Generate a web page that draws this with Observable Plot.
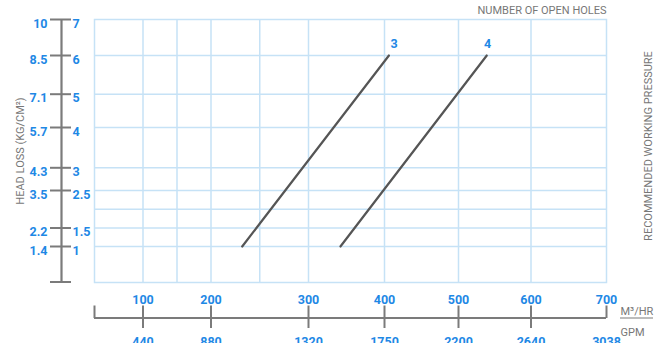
<!DOCTYPE html>
<html><head><meta charset="utf-8">
<script src="https://cdn.jsdelivr.net/npm/d3@7"></script>
<script src="https://cdn.jsdelivr.net/npm/@observablehq/plot@0.6"></script>
<style>
html,body{margin:0;padding:0;background:#fff;overflow:hidden;}
#chart{width:668px;height:343px;overflow:hidden;}
</style></head><body><div id="chart"></div>
<script>
// ---- data ----
const flowTicks = [100, 200, 300, 400, 500, 600, 700];            // m³/hr
const gpmLabels = ["440", "880", "1320", "1750", "2200", "2640", "3038"];
const flowGrid = [100, 150, 200, 250, 300, 400, 500, 600];
const pressureTicks = [7, 6, 5, 4, 3, 2.5, 1.5, 1];                // right-hand labels
const headLossLabels = ["10", "8.5", "7.1", "5.7", "4.3", "3.5", "2.2", "1.4"];
const pressureGrid = [1, 1.5, 2, 2.5, 3, 4, 5, 6];
const holes = ["3", "4"];
const flowStart = [232, 342];
const flowEnd = [406, 539];
const pressureStart = [1, 1];
const pressureEnd = [6, 6];
const holeLabelFlow = [413, 540];
const flowMin = 30, flowMax = 700, pMin = 0, pMax = 7;

// ---- build tables ----
const lineRows = holes.flatMap((h, i) => [
  {holes: h, flow: flowStart[i], p: pressureStart[i]},
  {holes: h, flow: flowEnd[i], p: pressureEnd[i]}
]);
const holeLabels = holes.map((h, i) => ({holes: h, flow: holeLabelFlow[i], p: pressureEnd[i]}));

const blue = "#1e88e5", gray = "#7b7b7b", grid = "#c6e2f6", txt = "#777";
const font = "Roboto, 'Noto Sans', sans-serif";
const lbl = {fill: blue, fontWeight: "bold", fontSize: 12.5, lineAnchor: "middle"};

const chart = Plot.plot({
  width: 668, height: 352,
  marginLeft: 94, marginRight: 62, marginTop: 19, marginBottom: 70,
  style: {fontFamily: font, background: "#fff"},
  x: {type: "linear", domain: [flowMin, 100, 200, 300, 400, 500, 600, flowMax],
      range: [94, 142.5, 210.5, 308, 384, 458, 530.5, 606], axis: null},
  y: {type: "linear", domain: [pMin, 1, 1.5, 2, 2.5, 3, 4, 5, 6, pMax],
      range: [281.5, 246, 227.5, 208.7, 190, 167.3, 127, 93.7, 55, 19], axis: null},
  marks: [
    // grid + frame
    Plot.ruleX(flowGrid, {x: d => d, stroke: grid, strokeWidth: 1.5}),
    Plot.ruleY(pressureGrid, {y: d => d, stroke: grid, strokeWidth: 1.5}),
    Plot.frame({stroke: grid, strokeWidth: 1.5}),
    // left axis
    Plot.ruleX([flowMin], {x: d => d, y1: pMin, y2: pMax, dx: -33, stroke: gray, strokeWidth: 2.2}),
    Plot.ruleY([pMax, ...pressureTicks.slice(1), pMin], {y: d => d, x1: flowMin, x2: flowMin,
      insetLeft: -44, insetRight: 23, stroke: gray, strokeWidth: 2}),
    Plot.text(pressureTicks, {y: d => d, text: (d, i) => headLossLabels[i], frameAnchor: "left", dx: -47, dy: 4,
      textAnchor: "end", ...lbl}),
    Plot.text(pressureTicks, {y: d => d, text: d => String(d), frameAnchor: "left", dx: -22, dy: 4,
      textAnchor: "start", ...lbl}),
    Plot.text(["HEAD LOSS (KG/CM²)"], {text: d => d, frameAnchor: "left", dx: -74, rotate: -90,
      textAnchor: "middle", lineAnchor: "middle", fill: txt, fontSize: 11}),
    // bottom axis
    Plot.ruleY([pMin], {y: d => d, x1: flowMin, x2: flowMax, dy: 36, stroke: gray, strokeWidth: 2}),
    Plot.ruleX(flowTicks.slice(0, -1), {x: d => d, y1: pMin, y2: pMin, insetTop: 24, insetBottom: -46.5,
      stroke: gray, strokeWidth: 2}),
    Plot.ruleX([flowMin, flowMax], {x: d => d, y1: pMin, y2: pMin, insetTop: 24, insetBottom: -36.5,
      stroke: gray, strokeWidth: 2}),
    Plot.text(flowTicks, {x: d => d, text: d => String(d), frameAnchor: "bottom", dy: 17, ...lbl}),
    Plot.text(flowTicks, {x: d => d, text: (d, i) => gpmLabels[i], frameAnchor: "bottom", dy: 59, ...lbl}),
    Plot.text(["M³/HR"], {text: d => d, frameAnchor: "bottom-right", dx: 14, dy: 29, textAnchor: "start",
      lineAnchor: "middle", fill: txt, fontSize: 11}),
    Plot.ruleY([pMin], {y: d => d, x1: flowMax, x2: flowMax, insetLeft: 14, insetRight: -47, dy: 36,
      stroke: gray, strokeWidth: 1.2}),
    Plot.text(["GPM"], {text: d => d, frameAnchor: "bottom-right", dx: 14, dy: 50, textAnchor: "start",
      lineAnchor: "middle", fill: txt, fontSize: 11}),
    // titles
    Plot.text(["NUMBER OF OPEN HOLES"], {text: d => d, frameAnchor: "top-right", dy: -9, textAnchor: "end",
      lineAnchor: "middle", fill: txt, fontSize: 11}),
    Plot.text(["RECOMMENDED WORKING PRESSURE"], {text: d => d, frameAnchor: "right", dx: 42, dy: -5, rotate: -90,
      textAnchor: "middle", lineAnchor: "middle", fill: txt, fontSize: 11}),
    // data lines
    Plot.line(lineRows, {x: "flow", y: "p", z: "holes", stroke: "#555", strokeWidth: 2.2}),
    Plot.text(holeLabels, {x: "flow", y: "p", text: "holes", dy: -12, ...lbl})
  ]
});
document.getElementById("chart").appendChild(chart);
</script></body></html>
